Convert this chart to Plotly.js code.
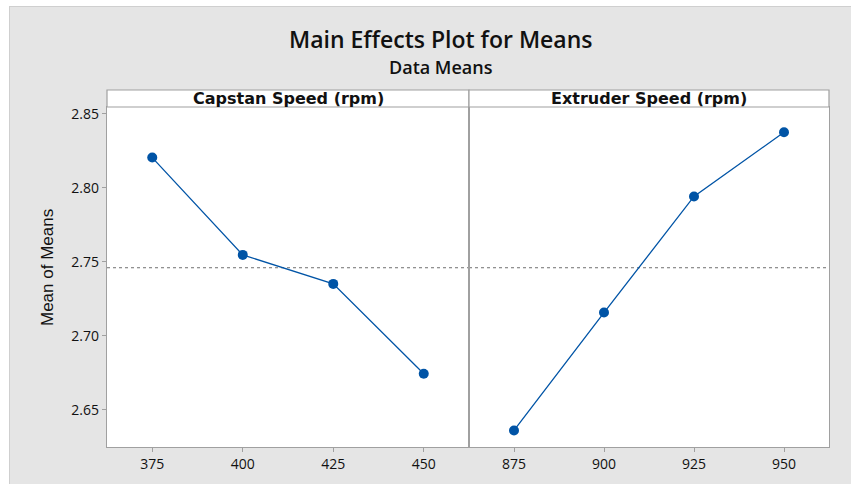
<!DOCTYPE html>
<html>
<head>
<meta charset="utf-8">
<script src="https://cdn.plot.ly/plotly-3.0.1.min.js"></script>
<style>
  html, body { margin: 0; padding: 0; background: #ffffff; width: 856px; height: 484px; overflow: hidden; }
  #frame { position: absolute; left: 9px; top: 6px; width: 841px; height: 478px; border-left: 1px solid #cfcfcf; border-top: 1px solid #cfcfcf; background: #e5e5e5; }
  #chart { position: absolute; left: 0; top: 0; width: 840px; height: 477px; }
</style>
</head>
<body>
<div id="frame"><div id="chart"></div></div>
<script>
// ---- data ----
const capstanLevels = [375, 400, 425, 450];
const capstanMeans  = [2.8205, 2.7547, 2.7351, 2.6743];
const extruderLevels = [875, 900, 925, 950];
const extruderMeans  = [2.6360, 2.7157, 2.7942, 2.8376];
const panelTitles = ["Capstan Speed (rpm)", "Extruder Speed (rpm)"];
const yTicks = [2.65, 2.70, 2.75, 2.80, 2.85];
const titleText = "Main Effects Plot for Means";
const subtitleText = "Data Means";
const yTitleText = "Mean of Means";

const all = capstanMeans.concat(extruderMeans);
const grandMean = all.reduce((a, b) => a + b, 0) / all.length;

const blue = "#0054a6";
const axisGray = "#a0a0a0";
const font = "Open Sans, Noto Sans, sans-serif";
const stripFont = "DejaVu Sans, Open Sans, sans-serif";

const W = 840, H = 477;
const mL = 97, mR = 21, mT = 100, mB = 37;
const plotW = W - mL - mR, plotH = H - mT - mB;
const split = 362 / plotW;
const stripTop = 1 + 17 / plotH;

function tr(x, y, xa, ya) {
  return {
    x: x, y: y, xaxis: xa, yaxis: ya, type: "scatter", mode: "lines+markers",
    line: { color: blue, width: 1.3 },
    marker: { color: blue, size: 10 },
    hoverinfo: "x+y", showlegend: false
  };
}

const data = [
  tr(capstanLevels, capstanMeans, "x", "y"),
  tr(extruderLevels, extruderMeans, "x2", "y2")
];

const xCommon = {
  showgrid: false, zeroline: false, showline: true, mirror: true,
  linecolor: axisGray, linewidth: 1.2,
  ticks: "outside", ticklen: 4, tickcolor: axisGray,
  tickfont: { family: font, size: 14, color: "#111" },
  fixedrange: true
};
const yRange = [2.6248, 2.8547];

const layout = {
  width: W, height: H,
  margin: { l: mL, r: mR, t: mT, b: mB, pad: 0 },
  paper_bgcolor: "#e5e5e5",
  plot_bgcolor: "#ffffff",
  xaxis: Object.assign({}, xCommon, { domain: [0, split], range: [362.5, 462.5], tickvals: capstanLevels, anchor: "y" }),
  xaxis2: Object.assign({}, xCommon, { domain: [split, 1], range: [862.5, 962.5], tickvals: extruderLevels, anchor: "y2" }),
  yaxis: {
    domain: [0, 1], range: yRange, anchor: "x",
    showgrid: false, zeroline: false, showline: true, mirror: true,
    linecolor: axisGray, linewidth: 1.2,
    ticks: "outside", ticklen: 4, tickcolor: axisGray,
    tickvals: yTicks, tickformat: ".2f",
    tickfont: { family: font, size: 14, color: "#111" },
    fixedrange: true
  },
  yaxis2: {
    domain: [0, 1], range: yRange, anchor: "x2", matches: "y",
    showgrid: false, zeroline: false, showline: true, mirror: true,
    linecolor: axisGray, linewidth: 1.2,
    showticklabels: false, ticks: "",
    fixedrange: true
  },
  shapes: [
    { type: "line", xref: "x domain", yref: "y", x0: 0, x1: 1, y0: grandMean, y1: grandMean,
      line: { color: "#707070", width: 1, dash: "dot" }, layer: "below" },
    { type: "line", xref: "x2 domain", yref: "y2", x0: 0, x1: 1, y0: grandMean, y1: grandMean,
      line: { color: "#707070", width: 1, dash: "dot" }, layer: "below" },
    { type: "rect", xref: "x domain", yref: "paper", x0: 0, x1: 1, y0: 1, y1: stripTop,
      fillcolor: "#ffffff", line: { color: axisGray, width: 1.2 } },
    { type: "rect", xref: "x2 domain", yref: "paper", x0: 0, x1: 1, y0: 1, y1: stripTop,
      fillcolor: "#ffffff", line: { color: axisGray, width: 1.2 } }
  ],
  annotations: [
    { text: panelTitles[0], xref: "x domain", yref: "paper", x: 0.5, y: (1 + stripTop) / 2,
      showarrow: false, font: { family: stripFont, size: 16, color: "#111", weight: 700 }, xanchor: "center", yanchor: "middle" },
    { text: panelTitles[1], xref: "x2 domain", yref: "paper", x: 0.5, y: (1 + stripTop) / 2,
      showarrow: false, font: { family: stripFont, size: 16, color: "#111", weight: 700 }, xanchor: "center", yanchor: "middle" },
    { text: titleText, xref: "paper", yref: "paper", x: (430 - mL) / plotW, y: (440 - 31.5) / plotH,
      showarrow: false, font: { family: font, size: 23, color: "#111", weight: 600 }, xanchor: "center", yanchor: "middle" },
    { text: subtitleText, xref: "paper", yref: "paper", x: (431 - mL) / plotW, y: (440 - 60) / plotH,
      showarrow: false, font: { family: font, size: 18, color: "#111", weight: 600 }, xanchor: "center", yanchor: "middle" },
    { text: yTitleText, xref: "paper", yref: "paper", x: (37 - mL) / plotW, y: (440 - 261) / plotH,
      textangle: -90, showarrow: false, font: { family: "Liberation Sans Narrow, Liberation Sans, sans-serif", size: 17, color: "#111" },
      xanchor: "center", yanchor: "middle" }
  ]
};

Plotly.newPlot("chart", data, layout, { displayModeBar: false, staticPlot: true });
</script>
</body>
</html>
